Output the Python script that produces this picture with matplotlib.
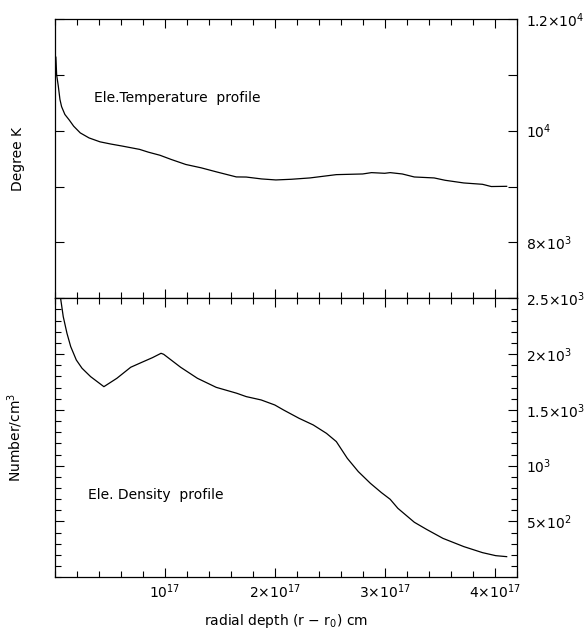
import numpy as np
import matplotlib
matplotlib.use("Agg")
import matplotlib.pyplot as plt
from matplotlib.ticker import MultipleLocator, FixedLocator

plt.rcParams["font.family"] = "DejaVu Sans"
plt.rcParams["mathtext.fontset"] = "dejavusans"

# electron temperature profile (depth in units of 1e17 cm, K)
temp_depth = [0.000, 0.008, 0.015, 0.030, 0.045, 0.060, 0.090, 0.130, 0.170, 0.230,
              0.310, 0.410, 0.510, 0.610, 0.770, 0.850, 0.955, 1.057, 1.190, 1.330,
              1.470, 1.650, 1.740, 1.880, 2.010, 2.150, 2.320, 2.560, 2.800, 2.880,
              3.000, 3.050, 3.160, 3.270, 3.450, 3.550, 3.720, 3.890, 3.970, 4.110]
temp_K = [10950, 11320, 11000, 10800, 10560, 10430, 10290, 10190, 10080, 9960,
          9870, 9800, 9760, 9725, 9665, 9615, 9560, 9485, 9395, 9335,
          9262, 9172, 9170, 9136, 9118, 9130, 9154, 9213, 9225, 9249,
          9237, 9249, 9225, 9171, 9154, 9112, 9064, 9040, 9000, 9004]

# electron density profile (depth in units of 1e17 cm, cm^-3)
dens_depth = [0.051, 0.075, 0.109, 0.143, 0.194, 0.246, 0.324, 0.445, 0.563, 0.689,
              0.785, 0.887, 0.965, 0.989, 1.143, 1.296, 1.467, 1.654, 1.740, 1.876,
              2.000, 2.080, 2.220, 2.350, 2.470, 2.560, 2.660, 2.760, 2.870, 2.970,
              3.050, 3.120, 3.270, 3.380, 3.530, 3.720, 3.890, 4.010, 4.110]
dens_n = [2500, 2336, 2186, 2067, 1947, 1873, 1798, 1708, 1783, 1882,
          1924, 1968, 2007, 1998, 1882, 1783, 1702, 1649, 1619, 1589,
          1544, 1499, 1425, 1365, 1290, 1216, 1066, 947, 842, 759,
          699, 618, 493, 430, 349, 275, 221, 194, 185]

x_ticks = [1e17, 2e17, 3e17, 4e17]
x_labels = ["10$^{17}$", "2×10$^{17}$", "3×10$^{17}$", "4×10$^{17}$"]
t_ticks = [8000, 10000, 12000]
t_labels = ["8×10$^{3}$", "10$^{4}$", "1.2×10$^{4}$"]
n_ticks = [500, 1000, 1500, 2000, 2500]
n_labels = ["5×10$^{2}$", "10$^{3}$", "1.5×10$^{3}$", "2×10$^{3}$", "2.5×10$^{3}$"]

fig = plt.figure(figsize=(5.85, 6.31), dpi=100)
ax1 = fig.add_axes([0.094, 0.5273, 0.789, 0.4427])
ax2 = fig.add_axes([0.094, 0.0851, 0.789, 0.4422])

ax1.plot(np.array(temp_depth) * 1e17, temp_K, color="black", lw=0.9)
ax2.plot(np.array(dens_depth) * 1e17, dens_n, color="black", lw=0.9)

for ax in (ax1, ax2):
    ax.set_xlim(0, 4.2e17)
    ax.xaxis.set_major_locator(FixedLocator(x_ticks))
    ax.xaxis.set_minor_locator(MultipleLocator(0.2e17))
    ax.tick_params(which="both", direction="in", top=True, bottom=True,
                   left=True, right=True, labelleft=False, labelright=True,
                   width=0.8, labelsize=10)
    ax.tick_params(which="major", length=6.5, pad=7)
    ax.tick_params(which="minor", length=4)
    for s in ax.spines.values():
        s.set_linewidth(0.9)

ax1.set_ylim(7000, 12000)
ax1.yaxis.set_major_locator(FixedLocator(t_ticks))
ax1.yaxis.set_minor_locator(FixedLocator([9000, 11000]))
ax1.tick_params(axis="y", which="minor", length=6.5)
ax1.set_yticklabels(t_labels)
ax1.tick_params(axis="x", labelbottom=False)
ax1.set_ylabel("Degree K", fontsize=10)
ax1.yaxis.set_label_position("left")
ax1.yaxis.set_label_coords(-0.066, 0.5)
ax1.text(0.085, 0.716, "Ele.Temperature  profile", transform=ax1.transAxes,
         fontsize=10, va="center")

ax2.set_ylim(0, 2500)
ax2.yaxis.set_major_locator(FixedLocator(n_ticks))
ax2.yaxis.set_minor_locator(MultipleLocator(100))
ax2.set_yticklabels(n_labels)
ax2.set_xticklabels(x_labels)
ax2.tick_params(axis="x", pad=4)
ax2.set_ylabel("Number/cm$^{3}$", fontsize=10)
ax2.yaxis.set_label_position("left")
ax2.yaxis.set_label_coords(-0.066, 0.5)
ax2.set_xlabel("radial depth (r − r$_{0}$) cm", fontsize=10)
ax2.xaxis.set_label_coords(0.5, -0.125)
ax2.text(0.0715, 0.295, "Ele. Density  profile", transform=ax2.transAxes,
         fontsize=10, va="center")

fig.savefig("out.png", dpi=100)
